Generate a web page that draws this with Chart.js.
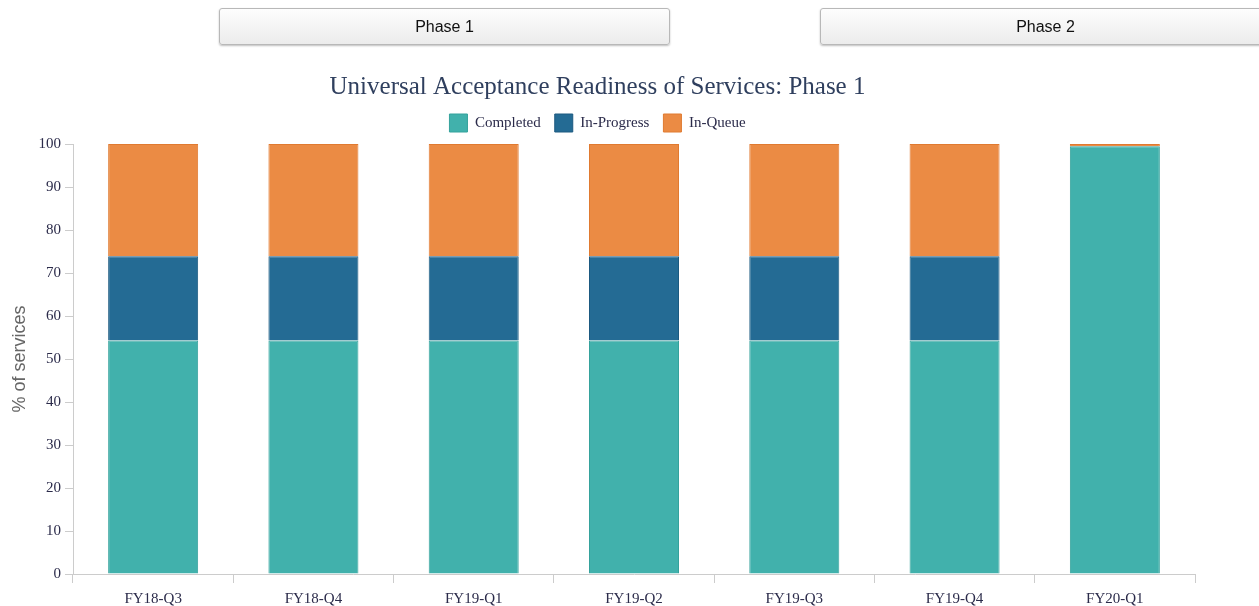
<!DOCTYPE html>
<html>
<head>
<meta charset="utf-8">
<script src="https://cdn.jsdelivr.net/npm/chart.js@4/dist/chart.umd.min.js"></script>
<style>
  html, body { margin: 0; padding: 0; background: #fff; width: 1259px; height: 606px; overflow: hidden; }
  #wrap { position: absolute; left: 0; top: 0; width: 1259px; height: 606px; }
  .btn {
    position: absolute; top: 8px; height: 37px; box-sizing: border-box;
    border: 1px solid #b8b8b8; border-radius: 3px;
    background: linear-gradient(#fdfdfd, #ececec);
    box-shadow: 0 1px 2px rgba(0,0,0,0.25);
    font-family: "Liberation Sans", Arial, sans-serif; font-size: 16px; color: #111;
    display: flex; align-items: center; justify-content: center;
  }
</style>
</head>
<body>
<div id="wrap"><canvas id="c" width="1259" height="606"></canvas></div>
<div class="btn" style="left:219px;width:451px;">Phase 1</div>
<div class="btn" style="left:820px;width:451px;">Phase 2</div>
<script>
const categories = ["FY18-Q3", "FY18-Q4", "FY19-Q1", "FY19-Q2", "FY19-Q3", "FY19-Q4", "FY20-Q1"];
const completed  = [54.3, 54.3, 54.3, 54.3, 54.3, 54.3, 99.5];
const inProgress = [19.6, 19.6, 19.6, 19.6, 19.6, 19.6, 0];
const inQueue    = [26.1, 26.1, 26.1, 26.1, 26.1, 26.1, 0.5];
const yTicks = [0, 10, 20, 30, 40, 50, 60, 70, 80, 90, 100];

const serif = '"Liberation Serif", "Times New Roman", serif';

new Chart(document.getElementById('c'), {
  type: 'bar',
  data: {
    labels: categories,
    datasets: [
      { label: 'Completed', data: completed, backgroundColor: '#41b1ac', borderColor: '#35a29c', borderWidth: 1 },
      { label: 'In-Progress', data: inProgress, backgroundColor: '#246b94', borderColor: '#1c5a80', borderWidth: 1 },
      { label: 'In-Queue', data: inQueue, backgroundColor: '#eb8b44', borderColor: '#e07a30', borderWidth: 1 }
    ]
  },
  options: {
    responsive: false,
    animation: false,
    layout: { padding: { top: 60, left: 0, right: 64, bottom: 0 } },
    datasets: { bar: { categoryPercentage: 1, barPercentage: 0.5616 } },
    plugins: {
      title: {
        display: true,
        text: 'Universal Acceptance Readiness of Services: Phase 1',
        color: '#2f3f5e',
        font: { family: serif, size: 25, weight: 'normal', lineHeight: 1.0 },
        padding: { top: 15, bottom: 0 }
      },
      subtitle: {
        display: true,
        text: '',
        weight: 500,
        font: { size: 2, lineHeight: 1.0 },
        padding: 0
      },
      legend: {
        display: true,
        labels: {
          boxWidth: 18, boxHeight: 18, padding: 14,
          color: '#2b2b4a',
          font: { family: serif, size: 15 }
        }
      },
      tooltip: { enabled: false }
    },
    scales: {
      x: {
        stacked: true,
        offset: true,
        afterFit: (axis) => { axis.height = 32; },
        grid: { offset: true, drawOnChartArea: false, drawTicks: true, tickLength: 9, color: '#cccccc' },
        border: { color: '#cccccc', width: 1 },
        ticks: { color: '#2b2b4a', font: { family: serif, size: 15 }, padding: 7, maxRotation: 0 }
      },
      y: {
        stacked: true,
        min: 0, max: 100,
        afterBuildTicks: (axis) => { axis.ticks = yTicks.map(v => ({ value: v })); },
        afterFit: (axis) => { axis.width = 73; },
        grid: { drawOnChartArea: false, drawTicks: true, tickLength: 8, color: '#cccccc' },
        border: { color: '#cccccc', width: 1 },
        ticks: { color: '#2b2b4a', font: { family: serif, size: 15 }, padding: 4 },
        title: {
          display: true, text: '% of services', color: '#666',
          font: { family: '"Liberation Sans", Arial, sans-serif', size: 18 },
          padding: { top: 9, bottom: 0 }
        }
      }
    }
  }
});
</script>
</body>
</html>
